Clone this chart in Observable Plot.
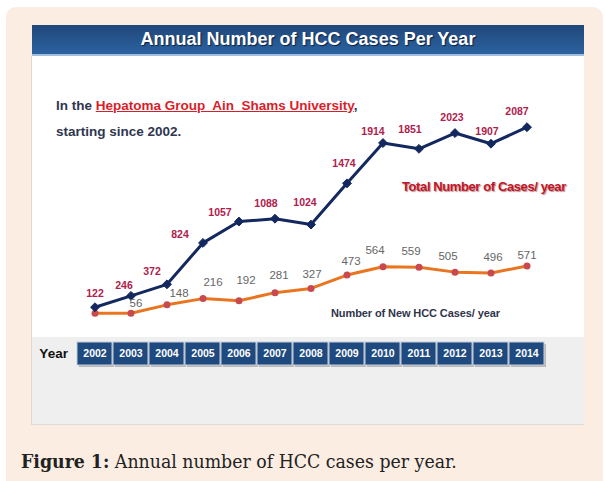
<!DOCTYPE html>
<html><head><meta charset="utf-8">
<script src="https://cdn.jsdelivr.net/npm/d3@7"></script>
<script src="https://cdn.jsdelivr.net/npm/@observablehq/plot@0.6"></script>
<style>
html,body{margin:0;padding:0;background:#fff;width:605px;height:481px;overflow:hidden;font-family:Arial,"Liberation Sans",sans-serif;}
#page{position:relative;width:605px;height:481px;overflow:hidden;}
#outer{position:absolute;left:6px;top:7px;width:597px;height:500px;background:#fcede2;border-radius:10px;}
#titlebar{position:absolute;left:32px;top:25px;width:552px;height:29px;background:linear-gradient(#21477a,#2b63a0);border-bottom:2px solid #a3bfe0;color:#fff;font-weight:bold;font-size:18px;text-align:center;line-height:28px;text-shadow:1px 1px 1px #0b1f40;}
#white{position:absolute;left:32px;top:56px;width:552px;height:281px;background:#fff;box-shadow:-1px 0 0 #e8d8cc;}
#grey{position:absolute;left:32px;top:337px;width:552px;height:87px;background:#efefef;border-bottom:1px solid #dcdcdc;box-shadow:-1px 0 0 #e8d8cc;}
.note{position:absolute;white-space:pre;font-weight:bold;}
#l1{left:56px;top:98px;font-size:13.5px;line-height:16px;color:#2f3650;}
#l1 span{color:#d81e2a;text-decoration:underline;}
#l2{left:56px;top:124px;font-size:13.5px;line-height:16px;color:#2f3650;}
#tot{left:402px;top:178.5px;font-size:13px;line-height:15px;color:#c3142a;letter-spacing:-0.4px;text-shadow:1px 1px 1px rgba(90,0,0,0.45);}
#nw{left:331px;top:307px;font-size:11px;line-height:13px;color:#30344a;letter-spacing:-0.1px;}
#caption{position:absolute;left:21px;top:450px;font-family:"DejaVu Serif Condensed","DejaVu Serif",serif;font-size:19.3px;line-height:24px;color:#222;white-space:pre;}
</style></head>
<body><div id="page">
<div id="outer"></div>
<div id="titlebar">Annual Number of HCC Cases Per Year</div>
<div id="white"></div>
<div id="grey"></div>
<div class="note" id="l1">In the <span>Hepatoma Group  Ain  Shams University</span>,</div>
<div class="note" id="l2">starting since 2002.</div>
<div class="note" id="tot">Total Number of Cases/ year</div>
<div class="note" id="nw">Number of New HCC Cases/ year</div>
<div id="caption"><b>Figure 1:</b> Annual number of HCC cases per year.</div>
</div>
<script>
const years = ["2002","2003","2004","2005","2006","2007","2008","2009","2010","2011","2012","2013","2014"];
const total = [122,246,372,824,1057,1088,1024,1474,1914,1851,2023,1907,2087];
const newCases = [56,56,148,216,192,281,327,473,564,559,505,496,571];
const totalLabels = ["122","246","372","824","1057","1088","1024","1474","1914","1851","2023","1907","2087"];
const newLabels = ["","56","148","216","192","281","327","473","564","559","505","496","571"];

// label placement offsets (layout only)
const totalOff = [[0,-14],[-7,-10],[-15,-12.5],[-23,-8],[-19,-9],[-9,-15],[-6,-22],[-3,-20],[-10,-11],[-9,-19],[-3,-15],[-4,-12],[-10,-16]];
const newOff = [[0,0],[5,-10],[12,-12],[10,-16],[7,-20],[4,-17],[1,-14],[4,-14],[-8,-16],[-8,-16],[-7,-16],[2,-16],[0,-11]];

const table = years.map((year, i) => ({year, total: total[i], newCases: newCases[i], tl: totalLabels[i], nl: newLabels[i]}));

const xScale = {type: "band", domain: years, paddingInner: 0.04, paddingOuter: 0.02, axis: null};
const font = "Arial, 'Liberation Sans', sans-serif";

const labelMarks = [];
table.forEach((d, i) => {
  labelMarks.push(Plot.text([d], {x: "year", y: "total", text: "tl", dx: totalOff[i][0], dy: totalOff[i][1], fill: "#b0204c", fontWeight: "bold", fontSize: 10.5}));
  if (d.nl) labelMarks.push(Plot.text([d], {x: "year", y: "newCases", text: "nl", dx: newOff[i][0], dy: newOff[i][1], fill: "#666", fontSize: 11.5}));
});

const main = Plot.plot({
  width: 552, height: 281,
  marginLeft: 41.4, marginRight: 36.1, marginTop: 70.7, marginBottom: 19.1,
  x: xScale,
  y: {domain: [0, d3.max(total)], axis: null},
  style: {background: "transparent", fontFamily: font, overflow: "visible"},
  marks: [
    Plot.line(table, {x: "year", y: "newCases", stroke: "#ea7521", strokeWidth: 3}),
    Plot.dot(table, {x: "year", y: "newCases", r: 3.5, fill: "#c94a4e"}),
    Plot.line(table, {x: "year", y: "total", stroke: "#13285f", strokeWidth: 3}),
    Plot.dot(table, {x: "year", y: "total", symbol: "diamond2", r: 4, fill: "#13285f", stroke: "#13285f", strokeWidth: 1}),
    ...labelMarks
  ]
});
main.style.position = "absolute"; main.style.left = "0px"; main.style.top = "0px";
document.getElementById("white").appendChild(main);

const yearRow = Plot.plot({
  width: 552, height: 40,
  marginLeft: 41.4, marginRight: 36.1, marginTop: 5, marginBottom: 12,
  x: xScale,
  style: {background: "transparent", fontFamily: font, overflow: "visible"},
  marks: [
    Plot.cell(years, {x: d => d, fill: "#8a8a8a", fillOpacity: 0.55, dx: 2, dy: 2}),
    Plot.cell(years, {x: d => d, fill: "#1f4a80", stroke: "#c3ccd9", strokeWidth: 1}),
    Plot.text(years, {x: d => d, text: d => d, frameAnchor: "middle", fill: "white", fontWeight: "bold", fontSize: 10.5}),
    Plot.text(["Year"], {text: d => d, frameAnchor: "left", textAnchor: "end", dx: -6, fill: "#111", fontWeight: "bold", fontSize: 13.5})
  ]
});
yearRow.style.position = "absolute"; yearRow.style.left = "0px"; yearRow.style.top = "0px";
document.getElementById("grey").appendChild(yearRow);
</script>
</body></html>
